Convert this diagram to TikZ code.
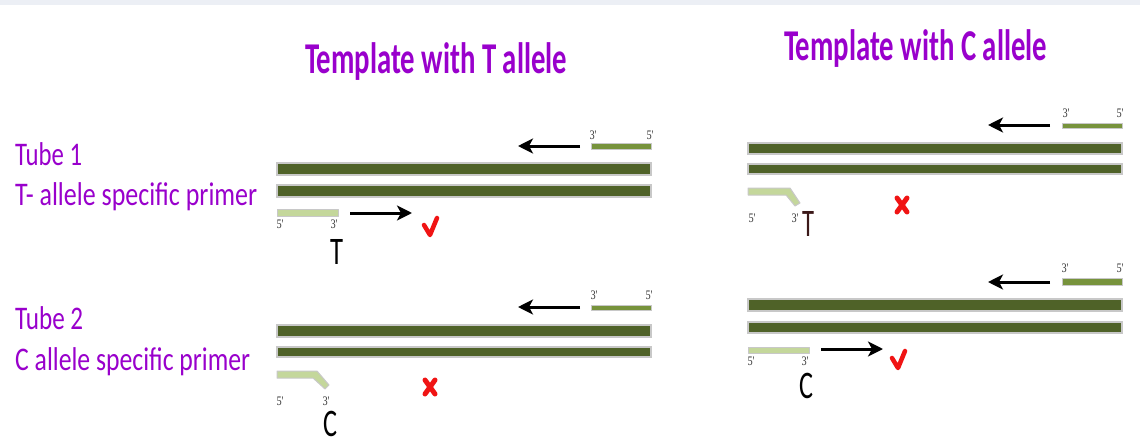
\documentclass[tikz,border=0pt]{standalone}
\usepackage{graphicx}
\usepackage{fontspec}
\setmainfont{Carlito}
\newfontfamily\smallserif{Liberation Serif}
\usetikzlibrary{arrows.meta}
\definecolor{purp}{RGB}{153,0,204}
\definecolor{dkg}{RGB}{79,98,40}
\definecolor{midg}{RGB}{119,147,60}
\definecolor{paleg}{RGB}{196,215,155}
\definecolor{edgec}{RGB}{200,200,200}
\definecolor{xred}{RGB}{240,20,20}
\definecolor{brownT}{RGB}{60,25,25}
\definecolor{band}{RGB}{236,239,245}
\newcommand{\fitw}[2]{\resizebox{#1}{\height}{#2}}
\tikzset{
  titlet/.style={text=purp, font=\fontsize{44}{46}\selectfont\bfseries, inner sep=0pt, anchor=base west},
  lab/.style={text=purp, font=\fontsize{33}{35}\selectfont, inner sep=0pt, anchor=base west},
  tinyl/.style={font=\smallserif\fontsize{13}{13}\selectfont, text=gray!45!black, inner sep=0pt, anchor=center},
  basel/.style={font=\fontsize{39}{39}\selectfont, inner sep=0pt, anchor=base},
  tmpl/.style={fill=dkg, draw=edgec, line width=1.1pt},
  revp/.style={fill=midg, draw=edgec, line width=1pt},
  fwdp/.style={fill=paleg, draw=edgec, line width=1pt, line join=round},
  ext/.style={line width=3pt, -{Stealth[length=15pt,width=15pt,inset=4pt]}},
  okmark/.style={draw=xred, line width=4.5pt, line join=round, line cap=round},
  nomark/.style={draw=xred, line width=5pt, line cap=round}
}
\begin{document}
\begin{tikzpicture}[x=1pt,y=-1pt]
\useasboundingbox (0,0) rectangle (1140,444);
\fill[white] (0,0) rectangle (1140,444);
\fill[band] (0,0) rectangle (1140,5);

% titles
\node[titlet] (title1) at (305,74) {\fitw{262pt}{Template with T allele}};
\node[titlet] (title2) at (784,60) {\fitw{263pt}{Template with C allele}};

% left labels
\node[lab] (tube1) at (15,165) {\fitw{67pt}{Tube 1}};
\node[lab] (tprim) at (15,205) {\fitw{242pt}{T- allele specific primer}};
\node[lab] (tube2) at (15,329) {\fitw{68pt}{Tube 2}};
\node[lab] (cprim) at (15,370) {\fitw{235pt}{C allele specific primer}};

% ===== Panel 1 =====
\draw[revp] (591,143) rectangle (651,149);
\node[tinyl] (p1r3) at (593,135) {\fitw{7pt}{3'}};
\node[tinyl] (p1r5) at (650,135) {\fitw{7pt}{5'}};
\coordinate (a1s) at (580,146); \coordinate (a1e) at (518,146);
\draw[ext] (a1s) -- (a1e);
\draw[tmpl] (277,163) rectangle (651,175);
\draw[tmpl] (277,185) rectangle (651,197);
\draw[fwdp] (277,209) rectangle (338,216);
\node[tinyl] (p1f5) at (280,224) {\fitw{7pt}{5'}};
\node[tinyl] (p1f3) at (334,224) {\fitw{7pt}{3'}};
\coordinate (b1s) at (350,213); \coordinate (b1e) at (412,213);
\draw[ext] (b1s) -- (b1e);
\draw[okmark] (424,225) -- (430,235) -- (437,218);
\node[basel] (p1T) at (337,264) {\fitw{13pt}{T}};

% ===== Panel 2 =====
\draw[revp] (1062,123) rectangle (1122,128);
\node[tinyl] (p2r3) at (1066,113) {\fitw{7pt}{3'}};
\node[tinyl] (p2r5) at (1120,113) {\fitw{7pt}{5'}};
\coordinate (a2s) at (1050,125); \coordinate (a2e) at (988,125);
\draw[ext] (a2s) -- (a2e);
\draw[tmpl] (748,143) rectangle (1122,154);
\draw[tmpl] (748,164) rectangle (1122,174);
\draw[fwdp] (748,188) -- (790,188) -- (800,203) -- (795,206) -- (786,195) -- (748,195) -- cycle;
\node[tinyl] (p2f5) at (752,218) {\fitw{7pt}{5'}};
\node[tinyl] (p2f3) at (795,218) {\fitw{7pt}{3'}};
\node[basel, text=brownT] (p2T) at (808,236) {\fitw{12pt}{T}};
\draw[nomark] (897,198) -- (907,212) (907,198) -- (897,212);

% ===== Panel 3 =====
\draw[revp] (591,305) rectangle (651,310);
\node[tinyl] (p3r3) at (594,295) {\fitw{7pt}{3'}};
\node[tinyl] (p3r5) at (649,295) {\fitw{7pt}{5'}};
\coordinate (a3s) at (580,307); \coordinate (a3e) at (518,307);
\draw[ext] (a3s) -- (a3e);
\draw[tmpl] (277,325) rectangle (651,337);
\draw[tmpl] (277,347) rectangle (651,357);
\draw[fwdp] (277,371) -- (317,371) -- (329,385) -- (325,389) -- (313,378) -- (277,378) -- cycle;
\node[tinyl] (p3f5) at (280,401) {\fitw{7pt}{5'}};
\node[tinyl] (p3f3) at (326,401) {\fitw{7pt}{3'}};
\node[basel] (p3C) at (330,436) {\fitw{14pt}{C}};
\draw[nomark] (425,380) -- (435,394) (435,380) -- (425,394);

% ===== Panel 4 =====
\draw[revp] (1062,278) rectangle (1122,285);
\node[tinyl] (p4r3) at (1065,268) {\fitw{7pt}{3'}};
\node[tinyl] (p4r5) at (1120,268) {\fitw{7pt}{5'}};
\coordinate (a4s) at (1050,282); \coordinate (a4e) at (988,282);
\draw[ext] (a4s) -- (a4e);
\draw[tmpl] (748,299) rectangle (1122,311);
\draw[tmpl] (748,322) rectangle (1122,333);
\draw[fwdp] (748,347) rectangle (809,353);
\node[tinyl] (p4f5) at (751,361) {\fitw{7pt}{5'}};
\node[tinyl] (p4f3) at (805,361) {\fitw{7pt}{3'}};
\coordinate (b4s) at (821,349); \coordinate (b4e) at (883,349);
\draw[ext] (b4s) -- (b4e);
\draw[okmark] (892,358) -- (898,368) -- (905,351);
\node[basel] (p4C) at (806,398) {\fitw{14pt}{C}};
\end{tikzpicture}
\end{document}
